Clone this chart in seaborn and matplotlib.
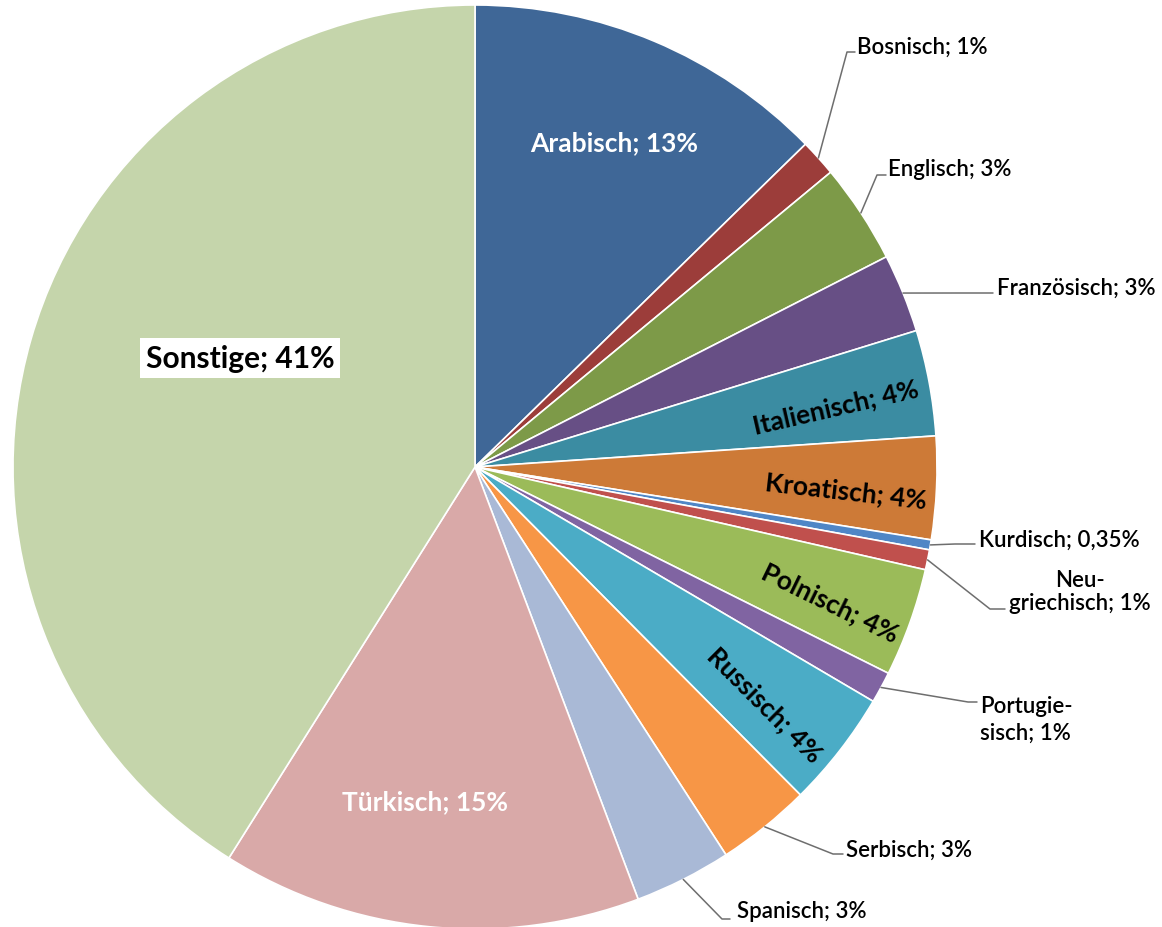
import numpy as np
import matplotlib
matplotlib.use("Agg")
import matplotlib.pyplot as plt
import seaborn as sns

# Sprachen (Anteile geschaetzt aus dem Bild, Beschriftung wie im Original)
sprachen = ["Arabisch", "Bosnisch", "Englisch", "Französisch", "Italienisch",
            "Kroatisch", "Kurdisch", "Neugriechisch", "Polnisch", "Portugiesisch",
            "Russisch", "Serbisch", "Spanisch", "Türkisch", "Sonstige"]
anteile = [12.7, 1.3, 3.5, 2.75, 3.7, 3.6, 0.35, 0.7, 3.8, 1.1, 4.1, 3.3, 3.4, 14.7, 41.1]
prozent_text = ["13%", "1%", "3%", "3%", "4%", "4%", "0,35%", "1%", "4%", "1%",
                "4%", "3%", "3%", "15%", "41%"]
farben = ["#3F6797", "#9C3D3A", "#7D9A48", "#674F85", "#3B8CA2", "#CD7A37",
          "#4F86C6", "#C0504D", "#9BBB59", "#8064A2", "#4BACC6", "#F79646",
          "#A9B9D6", "#D9A9A8", "#C5D5AB"]

sns.set_theme(style="white")
plt.rcParams["font.family"] = ["Lato", "DejaVu Sans"]

W, H = 1162, 928
fig = plt.figure(figsize=(W / 100, H / 100), dpi=100)
ax = fig.add_axes([0, 0, 1, 1])

cx, cy, R = 475, H - 468, 462
wedges, _ = ax.pie(anteile, colors=farben, startangle=90, counterclock=False,
                   center=(cx, cy), radius=R,
                   wedgeprops=dict(edgecolor="white", linewidth=1.2))
ax.set_xlim(0, W)
ax.set_ylim(0, H)
ax.set_aspect("equal")
ax.axis("off")


def img(x, y):
    return x, H - y


def label(i):
    name = sprachen[i]
    if name == "Neugriechisch":
        return "Neu-\ngriechisch; " + prozent_text[i]
    if name == "Portugiesisch":
        return "Portugie-\nsisch; " + prozent_text[i]
    return name + "; " + prozent_text[i]


# Beschriftungen innerhalb der Segmente: (x, y, rotation, farbe, groesse)
innen = {
    "Arabisch": (614, 143, 0, "white", 19),
    "Italienisch": (836, 407, 13, "black", 19),
    "Kroatisch": (846, 491, -6.5, "black", 19),
    "Polnisch": (830, 603, -26, "black", 19),
    "Russisch": (765, 705, -45, "black", 19),
    "Türkisch": (425, 802, 0, "white", 19),
}
for i, name in enumerate(sprachen):
    if name in innen:
        x, y, rot, col, fs = innen[name]
        ax.text(*img(x, y), label(i), ha="center", va="center", rotation=rot,
                rotation_mode="anchor", color=col, fontsize=fs, fontweight="bold")

i_son = sprachen.index("Sonstige")
ax.text(*img(240, 359), label(i_son), ha="center", va="center", fontsize=21.5,
        fontweight="bold", color="black",
        bbox=dict(boxstyle="square,pad=0.2", fc="white", ec="none"))

# Beschriftungen ausserhalb mit Fuehrungslinien: Knick, Linienende, Textpos, ha, Zeilenabstand
aussen = {
    "Bosnisch": ((847, 53), (855, 53), (857, 47), "left", 1.1),
    "Englisch": ((877, 176), (886, 176), (888, 170), "left", 1.1),
    "Französisch": ((960, 294), (993, 294), (997, 288), "left", 1.1),
    "Kurdisch": ((955, 545), (975, 545), (979, 540), "left", 1.1),
    "Neugriechisch": ((990, 610), (1005, 610), (1080, 592), "center", 1.15),
    "Portugiesisch": ((968, 703), (977, 703), (980, 720), "left", 1.35),
    "Serbisch": ((833, 855), (843, 855), (846, 850), "left", 1.1),
    "Spanisch": ((722, 920), (730, 920), (737, 912), "left", 1.1),
}
for i, name in enumerate(sprachen):
    if name not in aussen:
        continue
    knick, ende, pos, ha, ls = aussen[name]
    w = wedges[i]
    mid = np.deg2rad((w.theta1 + w.theta2) / 2)
    start = (cx + R * np.cos(mid), cy + R * np.sin(mid))
    xs = [start[0], knick[0], ende[0]]
    ys = [start[1], H - knick[1], H - ende[1]]
    ax.plot(xs, ys, color="#6E6E6E", linewidth=1.1)
    ax.text(*img(*pos), label(i), ha=ha, va="center", fontsize=16,
            fontweight="semibold", color="black", multialignment=ha,
            linespacing=ls)

fig.savefig("out.png", dpi=100, facecolor="white")
